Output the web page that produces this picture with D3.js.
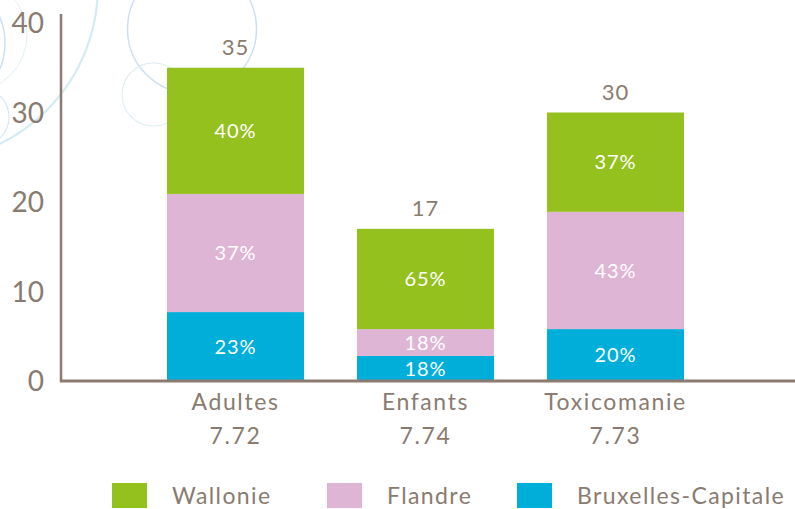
<!DOCTYPE html>
<html><head><meta charset="utf-8">
<script src="https://cdn.jsdelivr.net/npm/d3@7"></script>
<style>
html,body{margin:0;padding:0;background:#fff;}
svg{display:block;font-family:Lato,"Noto Sans",sans-serif;}
</style></head>
<body>
<svg id="chart" width="795" height="509"></svg>
<script>
const categories = ["Adultes", "Enfants", "Toxicomanie"];
const subLabels = ["7.72", "7.74", "7.73"];
const totals = [35, 17, 30];
const seriesNames = ["Bruxelles-Capitale", "Flandre", "Wallonie"];
const bruxelles = [7.7, 2.8, 5.8];
const flandre = [13.2, 3.0, 13.1];
const wallonie = [14.1, 11.2, 11.1];
const pctBruxelles = ["23%", "18%", "20%"];
const pctFlandre = ["37%", "18%", "43%"];
const pctWallonie = ["40%", "65%", "37%"];
const yTicks = [0, 10, 20, 30, 40];
const legendOrder = ["Wallonie", "Flandre", "Bruxelles-Capitale"];

const colors = {"Wallonie":"#95c11f","Flandre":"#dfb5d6","Bruxelles-Capitale":"#00afd9"};
const textCol = "#8a7b70";
const svg = d3.select("#chart");

// decorative background circles
const deco = [
  {cx:-78, cy:-14, r:176, c:"#d3ebf2", w:2.2},
  {cx:192, cy:29, r:64.5, c:"#c9dff3", w:1.4},
  {cx:153.5, cy:94.5, r:31.5, c:"#dcedf5", w:1.1},
  {cx:-60, cy:43, r:65, c:"#c9dff3", w:1.4},
  {cx:-30, cy:35, r:57, c:"#e2eff6", w:1},
  {cx:-20, cy:117, r:29, c:"#d6eaf3", w:1.2}
];
svg.append("g").selectAll("circle").data(deco).join("circle")
  .attr("cx",d=>d.cx).attr("cy",d=>d.cy).attr("r",d=>d.r)
  .attr("fill","none").attr("stroke",d=>d.c).attr("stroke-width",d=>d.w);

const y = d3.scaleLinear().domain([0,40]).range([381,23]);
const x = d3.scaleBand().domain(categories).range([140.5,710.5]).paddingInner(0.279).paddingOuter(0.1395);

const data = categories.map((c,i)=>({cat:c,"Bruxelles-Capitale":bruxelles[i],"Flandre":flandre[i],"Wallonie":wallonie[i]}));
const pcts = {"Bruxelles-Capitale":pctBruxelles,"Flandre":pctFlandre,"Wallonie":pctWallonie};
const stack = d3.stack().keys(seriesNames)(data);

const g = svg.append("g");
stack.forEach(layer=>{
  const key = layer.key;
  g.append("g").selectAll("rect").data(layer).join("rect")
    .attr("x",(d,i)=>x(categories[i]))
    .attr("width",x.bandwidth())
    .attr("y",d=>y(d[1]))
    .attr("height",d=>y(d[0])-y(d[1]))
    .attr("fill",colors[key]);
  g.append("g").selectAll("text").data(layer).join("text")
    .attr("x",(d,i)=>x(categories[i])+x.bandwidth()/2)
    .attr("y",d=>(y(d[0])+y(d[1]))/2)
    .attr("dy","0.36em")
    .attr("text-anchor","middle")
    .attr("fill","#fff")
    .attr("font-size",20)
    .attr("letter-spacing",1)
    .text((d,i)=>pcts[key][i]);
});

// totals
g.append("g").selectAll("text").data(totals).join("text")
  .attr("x",(d,i)=>x(categories[i])+x.bandwidth()/2)
  .attr("y",d=>y(d)-13)
  .attr("text-anchor","middle").attr("fill",textCol).attr("font-size",22).attr("letter-spacing",1)
  .text(d=>d);

// y axis
const yAxis = svg.append("g").attr("transform","translate(44,0)")
  .call(d3.axisLeft(y).tickValues(yTicks).tickSize(0).tickPadding(0));
yAxis.select(".domain").remove();
yAxis.selectAll("text").attr("fill",textCol).attr("font-size",28).attr("font-family","Lato,sans-serif").attr("dy","0.34em");

// axis lines
svg.append("line").attr("x1",61).attr("x2",61).attr("y1",14).attr("y2",382)
  .attr("stroke","#8b7b70").attr("stroke-width",2.5);
svg.append("line").attr("x1",60).attr("x2",795).attr("y1",381).attr("y2",381)
  .attr("stroke","#8b7b70").attr("stroke-width",3);

// x labels
const xAxis = svg.append("g").attr("transform","translate(0,381)")
  .call(d3.axisBottom(x).tickSize(0).tickPadding(0));
xAxis.select(".domain").remove();
xAxis.selectAll("text").attr("fill",textCol).attr("font-size",23).attr("letter-spacing",1.6)
  .attr("font-family","Lato,sans-serif").attr("dy","0").attr("y",29);
svg.append("g").selectAll("text").data(subLabels).join("text")
  .attr("x",(d,i)=>x(categories[i])+x.bandwidth()/2)
  .attr("y",444).attr("text-anchor","middle").attr("fill",textCol).attr("font-size",23).attr("letter-spacing",1.6)
  .text(d=>d);

// legend
const legX = [112, 327, 517];
const leg = svg.append("g").selectAll("g").data(legendOrder).join("g")
  .attr("transform",(d,i)=>`translate(${legX[i]},483)`);
leg.append("rect").attr("width",35).attr("height",25).attr("fill",d=>colors[d]);
leg.append("text").attr("x",60).attr("y",21).attr("fill",textCol).attr("font-size",23).attr("letter-spacing",1.4).text(d=>d);
</script>
</body></html>
